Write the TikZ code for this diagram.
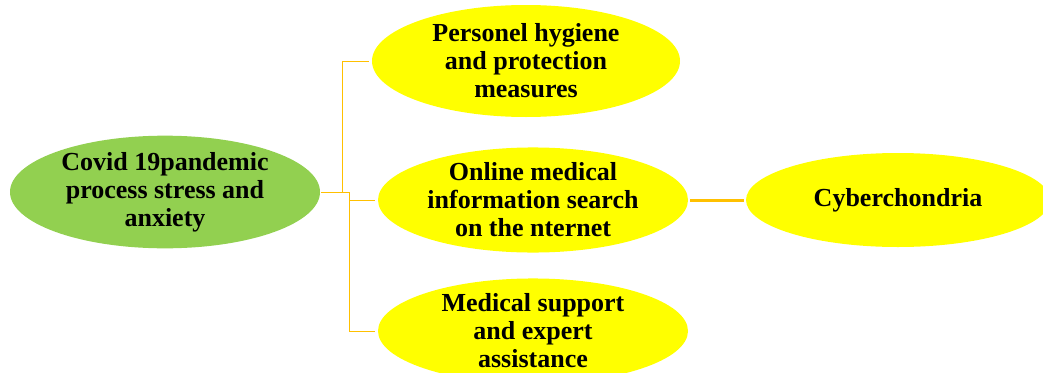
\documentclass[tikz,border=0pt]{standalone}
\usepackage{fontspec}
\setmainfont{Liberation Serif}
\usepackage{xcolor}
\usetikzlibrary{shapes,calc}
\definecolor{leafgreen}{HTML}{92D050}
\definecolor{brightyellow}{HTML}{FFFF00}
\definecolor{goldline}{HTML}{FFC000}

\begin{document}
\begin{tikzpicture}[x=1pt,y=-1pt,
    bubble/.style={ellipse,fill=brightyellow,inner sep=0pt,minimum width=310pt,minimum height=94pt,
        align=center,font=\bfseries\fontsize{26}{28}\selectfont},
    link/.style={goldline,line width=1pt}]
    % Frame of the picture
    \useasboundingbox (0,0) rectangle (1043,372);
    \clip (0,0) rectangle (1043,372);

    % Root and branches
    \node[bubble,fill=leafgreen,minimum width=310pt,minimum height=112pt] (covid) at (165,192)
        {Covid 19pandemic\\process stress and\\anxiety};
    \node[bubble,minimum width=308pt,minimum height=112pt] (hygiene) at (526,61)
        {Personel hygiene\\and protection\\measures};
    \node[bubble,minimum height=98pt] (search) at (533,200)
        {Online medical\\information search\\on the nternet};
    \node[bubble,minimum height=92pt] (support) at (533,331)
        {Medical support\\and expert\\assistance};
    \node[bubble,minimum width=304pt] (cyber) at (898,200) {Cyberchondria};

    % Elbow points
    \coordinate (split) at (349,192);
    \coordinate (upper) at (342,192);

    % Connectors
    \draw[link] ($(covid.east)+(1,0)$) -- (split);
    \draw[link] (upper) |- ($(hygiene.west)+(-3,0)$);
    \draw[link] (split) |- ($(search.west)+(-3,0)$);
    \draw[link] (split) |- ($(support.west)+(-3,0)$);
    \draw[goldline,line width=3pt] ($(search.east)+(2,0)$) -- ($(cyber.west)+(-2,0)$);
\end{tikzpicture}
\end{document}
